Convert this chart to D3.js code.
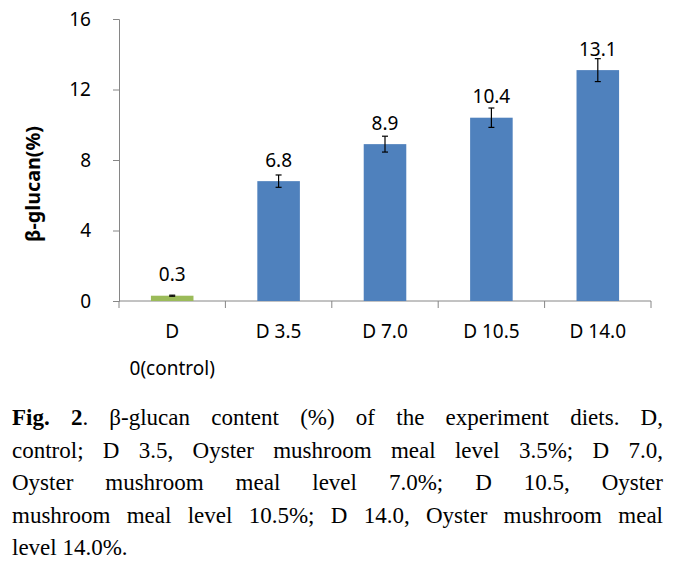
<!DOCTYPE html>
<html>
<head>
<meta charset="utf-8">
<script src="https://cdn.jsdelivr.net/npm/d3@7"></script>
<style>
  body { margin: 0; background: #fff; }
  #chart { position: absolute; left: 0; top: 0; }
  .axis path, .axis line { stroke: #868686; }
  .axis text { font-family: "Noto Sans", sans-serif; font-size: 19px; fill: #000; }
  #caption { position: absolute; left: 12px; top: 402px; width: 651px;
    font-family: "Liberation Serif", serif; font-size: 23px; line-height: 32.5px; color: #000; }
  #caption div { text-align: justify; text-align-last: justify; white-space: nowrap; }
  #caption div.last { text-align-last: left; }
</style>
</head>
<body>
<svg id="chart" width="682" height="390"></svg>
<div id="caption"></div>
<script>
var categories = ["D 0(control)", "D 3.5", "D 7.0", "D 10.5", "D 14.0"];
var catLines = [["D", "0(control)"], ["D 3.5"], ["D 7.0"], ["D 10.5"], ["D 14.0"]];
var values = [0.3, 6.8, 8.9, 10.4, 13.1];
var errors = [0.03, 0.35, 0.45, 0.55, 0.65];
var barColors = ["#9BBB59", "#4F81BD", "#4F81BD", "#4F81BD", "#4F81BD"];
var yTicks = [0, 4, 8, 12, 16];
var captionLines = [
	"<b>Fig. 2</b>. β-glucan content (%) of the experiment diets. D,",
	"control; D 3.5, Oyster mushroom meal level 3.5%; D 7.0,",
	"Oyster mushroom meal level 7.0%; D 10.5, Oyster",
	"mushroom meal level 10.5%; D 14.0, Oyster mushroom meal",
	"level 14.0%."
];

var svg = d3.select("#chart"),
	margin = { top: 19, left: 119 },
	width = 532,
	height = 282;

var x = d3.scaleBand().domain(categories).range([0, width]).paddingInner(0.6).paddingOuter(0.3),
	y = d3.scaleLinear().domain([0, 16]).range([height, 0]);

var g = svg.append("g")
	.attr("transform", "translate(" + margin.left + "," + margin.top + ")");

// y axis
g.append("g")
	.attr("class", "axis")
	.call(d3.axisLeft(y).tickValues(yTicks).tickSize(6).tickPadding(22))
	.call(function(a) { a.selectAll("text").attr("dy", "0.34em"); });

// x axis: ticks on category boundaries
var xa = g.append("g")
	.attr("class", "axis")
	.attr("transform", "translate(0," + height + ")");
xa.append("line").attr("x1", 0).attr("x2", width).attr("y1", 0).attr("y2", 0);
var step = x.step();
var bounds = d3.range(categories.length + 1).map(function(i) { return x(categories[0]) - x.paddingOuter() * step + i * step; });
bounds[0] = 0;
xa.selectAll(".tk").data(bounds).enter().append("line")
	.attr("x1", function(d) { return d; }).attr("x2", function(d) { return d; })
	.attr("y1", 0).attr("y2", 7);
xa.selectAll(".lbl").data(categories).enter().append("text")
	.attr("text-anchor", "middle")
	.attr("x", function(d) { return x(d) + x.bandwidth() / 2; })
	.each(function(d, i) {
		var t = d3.select(this);
		catLines[i].forEach(function(l, j) {
			t.append("tspan").attr("x", x(d) + x.bandwidth() / 2).attr("y", 37 + j * 37).text(l);
		});
	});

// bars
g.selectAll(".bar")
	.data(values)
	.enter().append("rect")
	.attr("x", function(d, i) { return x(categories[i]); })
	.attr("y", function(d) { return y(d); })
	.attr("width", x.bandwidth())
	.attr("height", function(d) { return height - y(d); })
	.attr("fill", function(d, i) { return barColors[i]; });

// error bars
var eb = g.selectAll(".err").data(values).enter().append("g")
	.attr("stroke", "#000").attr("stroke-width", 1.2);
eb.append("line")
	.attr("x1", function(d, i) { return x(categories[i]) + x.bandwidth() / 2; })
	.attr("x2", function(d, i) { return x(categories[i]) + x.bandwidth() / 2; })
	.attr("y1", function(d, i) { return y(d + errors[i]); })
	.attr("y2", function(d, i) { return y(d - errors[i]); });
[1, -1].forEach(function(s) {
	eb.append("line")
		.attr("x1", function(d, i) { return x(categories[i]) + x.bandwidth() / 2 - 3; })
		.attr("x2", function(d, i) { return x(categories[i]) + x.bandwidth() / 2 + 3; })
		.attr("y1", function(d, i) { return y(d + s * errors[i]); })
		.attr("y2", function(d, i) { return y(d + s * errors[i]); });
});

// value labels
g.selectAll(".val").data(values).enter().append("text")
	.attr("text-anchor", "middle")
	.attr("font-family", "Noto Sans, sans-serif")
	.attr("font-size", 19)
	.attr("x", function(d, i) { return x(categories[i]) + x.bandwidth() / 2; })
	.attr("y", function(d) { return y(d) - 21; })
	.attr("dy", "0.34em")
	.text(function(d) { return d3.format(".1f")(d); });

// y axis title
svg.append("text")
	.attr("transform", "translate(33,184) rotate(-90)")
	.attr("text-anchor", "middle")
	.attr("dy", "0.34em")
	.attr("font-family", "Noto Sans, sans-serif")
	.attr("font-size", 20)
	.attr("font-weight", "bold")
	.attr("textLength", 116)
	.attr("lengthAdjust", "spacingAndGlyphs")
	.text("β-glucan(%)");

// caption
d3.select("#caption").selectAll("div").data(captionLines).enter().append("div")
	.attr("class", function(d, i) { return i === captionLines.length - 1 ? "last" : null; })
	.html(function(d) { return d; });
</script>
</body>
</html>
